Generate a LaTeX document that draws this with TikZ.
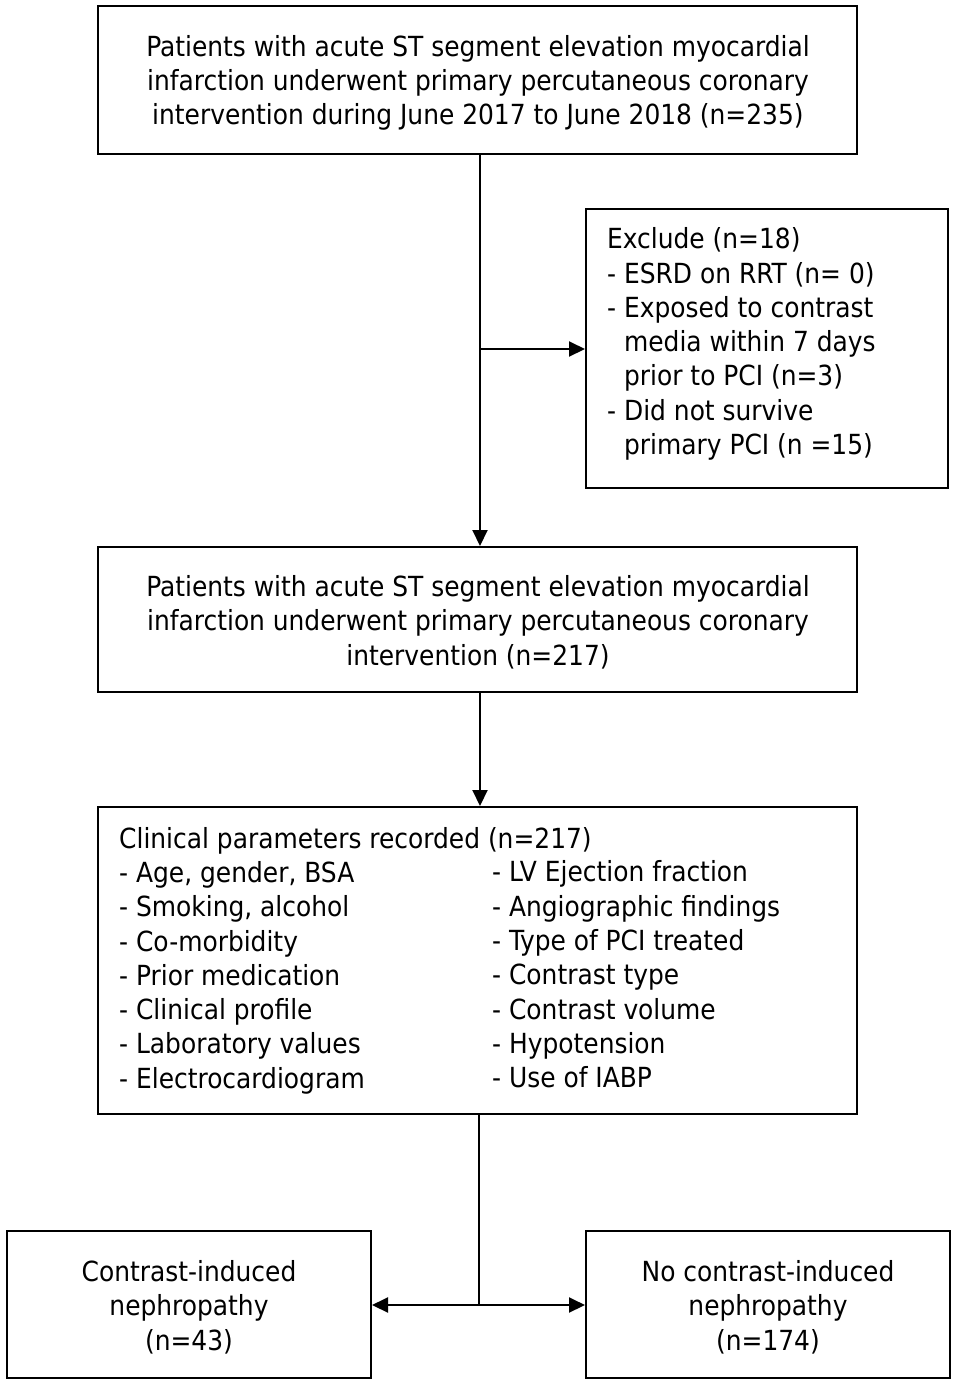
\documentclass[tikz,border=0pt]{standalone}
\usepackage{fontspec}
\setmainfont{DejaVu Sans Condensed}
\usetikzlibrary{arrows.meta}
\begin{document}
\begin{tikzpicture}[x=1pt,y=-1pt,
  box/.style={draw,line width=2pt,inner sep=0pt},
  txt/.style={inner sep=0pt,font=\fontsize{27.7}{34.3}\selectfont},
  arr/.style={line width=2pt,-{Triangle[length=16pt,width=15pt]}},
  ln/.style={line width=2pt}]
\useasboundingbox (0,0) rectangle (957,1385);
% boxes
\node[box,minimum width=759pt,minimum height=148pt] (b1) at (477.5,80) {};
\node[txt,align=center] (t1) at (478,83) {Patients with acute ST segment elevation myocardial\\infarction underwent primary percutaneous coronary\\intervention during June 2017 to June 2018 (n=235)};
\node[box,minimum width=362pt,minimum height=279pt] (b3) at (767,348.5) {};
\node[txt,align=left,anchor=west] (t3) at (607,344) {Exclude (n=18)\\- ESRD on RRT (n= 0)\\- Exposed to contrast\\\phantom{- }media within 7 days\\\phantom{- }prior to PCI (n=3)\\- Did not survive\\\phantom{- }primary PCI (n =15)};
\node[box,minimum width=759pt,minimum height=145pt] (b2) at (477.5,619.5) {};
\node[txt,align=center] (t2) at (478,622) {Patients with acute ST segment elevation myocardial\\infarction underwent primary percutaneous coronary\\intervention (n=217)};
\node[box,minimum width=759pt,minimum height=307pt] (b4) at (477.5,960.5) {};
\node[txt,align=left,anchor=west] (t4l) at (119,960.5) {Clinical parameters recorded (n=217)\\- Age, gender, BSA\\- Smoking, alcohol\\- Co-morbidity\\- Prior medication\\- Clinical profile\\- Laboratory values\\- Electrocardiogram};
\node[txt,align=left,anchor=west] (t4r) at (492,974.5) {- LV Ejection fraction\\- Angiographic findings\\- Type of PCI treated\\- Contrast type\\- Contrast volume\\- Hypotension\\- Use of IABP};
\node[box,minimum width=364pt,minimum height=147pt] (b5) at (189,1304.5) {};
\node[txt,align=center] (t5) at (189,1307) {Contrast-induced\\nephropathy\\(n=43)};
\node[box,minimum width=364pt,minimum height=147pt] (b6) at (768,1304.5) {};
\node[txt,align=center] (t6) at (768,1307) {No contrast-induced\\nephropathy\\(n=174)};
% connectors
\coordinate (m1) at (480,349);
\draw[arr] (480,0 |- b1.south) -- (480,0 |- b2.north);
\draw[arr] (m1) -- (m1 -| b3.west);
\draw[arr] (480,0 |- b2.south) -- (480,0 |- b4.north);
\coordinate (m2) at (479,1305);
\draw[ln] (479,0 |- b4.south) -- (m2);
\draw[arr] (m2) -- (m2 -| b5.east);
\draw[arr] (m2) -- (m2 -| b6.west);
\end{tikzpicture}
\end{document}
